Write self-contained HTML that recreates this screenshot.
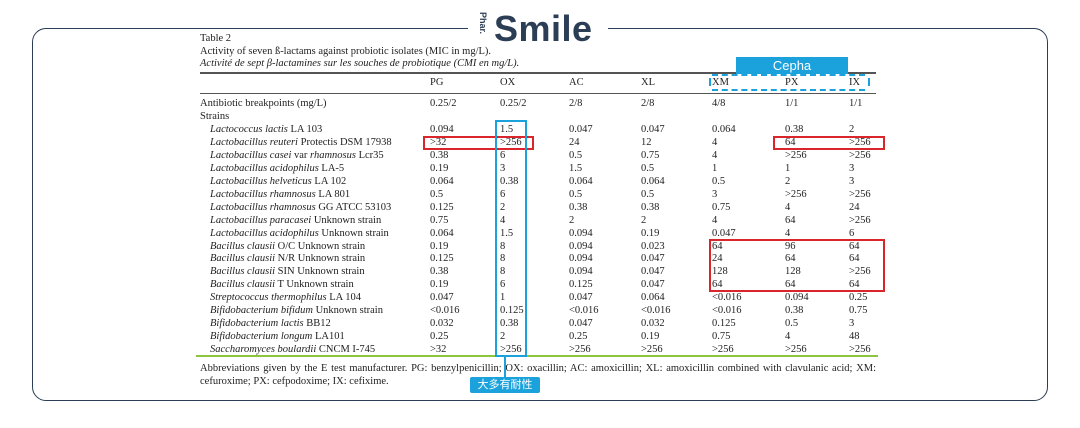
<!DOCTYPE html>
<html><head><meta charset="utf-8"><style>
body{margin:0;width:1080px;height:428px;background:#fff;position:relative;overflow:hidden;font-family:"Liberation Serif",serif;color:#222}
.frame{position:absolute;left:32px;top:28px;width:1014px;height:371px;border:1.5px solid #2b3e55;border-radius:14px}
.logo{position:absolute;left:468px;top:6px;width:140px;height:44px;background:#fff}
.t{position:absolute;font-size:10.5px;line-height:13px;white-space:nowrap}
.r{position:absolute;left:0;width:1080px;height:13px;font-size:10.5px;line-height:13px}
.r span{position:absolute;white-space:nowrap}
.n{left:210px}.a{left:430px}.b{left:500px}.c{left:569px}.d{left:641px}.e{left:712px}.f{left:785px}.g{left:849px}
i{font-style:italic}
.hl{position:absolute;left:200px;width:676px;background:#555}
.box{position:absolute;box-sizing:border-box}
</style></head><body>
<div class="frame"></div>
<div class="logo">
<div style="position:absolute;left:9px;top:6px;font-family:'Liberation Sans',sans-serif;font-weight:bold;font-size:9px;color:#2b3e55;transform:rotate(90deg);transform-origin:left top;left:20px">Phar.</div>
<div style="position:absolute;left:26px;top:2px;font-family:'Liberation Sans',sans-serif;font-weight:bold;font-size:36px;color:#2b3e55;letter-spacing:0.5px">Smile</div>
</div>
<div class="t" style="left:200px;top:32px">Table 2</div>
<div class="t" style="left:200px;top:45px">Activity of seven ß-lactams against probiotic isolates (MIC in mg/L).</div>
<div class="t" style="left:200px;top:57px"><i>Activité de sept β-lactamines sur les souches de probiotique (CMI en mg/L).</i></div>
<div class="hl" style="top:72px;height:2px"></div>
<div class="hl" style="top:93px;height:1px"></div>
<div class="r" style="top:76px"><span class="a">PG</span><span class="b">OX</span><span class="c">AC</span><span class="d">XL</span><span class="e">XM</span><span class="f">PX</span><span class="g">IX</span></div>
<div class="r" style="top:97px"><span style="left:200px">Antibiotic breakpoints (mg/L)</span><span class="a">0.25/2</span><span class="b">0.25/2</span><span class="c">2/8</span><span class="d">2/8</span><span class="e">4/8</span><span class="f">1/1</span><span class="g">1/1</span></div>
<div class="r" style="top:110px"><span style="left:200px">Strains</span></div>
<div class="r" style="top:123px"><span class="n"><i>Lactococcus lactis</i> LA 103</span><span class="a">0.094</span><span class="b">1.5</span><span class="c">0.047</span><span class="d">0.047</span><span class="e">0.064</span><span class="f">0.38</span><span class="g">2</span></div>
<div class="r" style="top:136px"><span class="n"><i>Lactobacillus reuteri</i> Protectis DSM 17938</span><span class="a">&gt;32</span><span class="b">&gt;256</span><span class="c">24</span><span class="d">12</span><span class="e">4</span><span class="f">64</span><span class="g">&gt;256</span></div>
<div class="r" style="top:149px"><span class="n"><i>Lactobacillus casei</i> var <i>rhamnosus</i> Lcr35</span><span class="a">0.38</span><span class="b">6</span><span class="c">0.5</span><span class="d">0.75</span><span class="e">4</span><span class="f">&gt;256</span><span class="g">&gt;256</span></div>
<div class="r" style="top:162px"><span class="n"><i>Lactobacillus acidophilus</i> LA-5</span><span class="a">0.19</span><span class="b">3</span><span class="c">1.5</span><span class="d">0.5</span><span class="e">1</span><span class="f">1</span><span class="g">3</span></div>
<div class="r" style="top:175px"><span class="n"><i>Lactobacillus helveticus</i> LA 102</span><span class="a">0.064</span><span class="b">0.38</span><span class="c">0.064</span><span class="d">0.064</span><span class="e">0.5</span><span class="f">2</span><span class="g">3</span></div>
<div class="r" style="top:188px"><span class="n"><i>Lactobacillus rhamnosus</i> LA 801</span><span class="a">0.5</span><span class="b">6</span><span class="c">0.5</span><span class="d">0.5</span><span class="e">3</span><span class="f">&gt;256</span><span class="g">&gt;256</span></div>
<div class="r" style="top:201px"><span class="n"><i>Lactobacillus rhamnosus</i> GG ATCC 53103</span><span class="a">0.125</span><span class="b">2</span><span class="c">0.38</span><span class="d">0.38</span><span class="e">0.75</span><span class="f">4</span><span class="g">24</span></div>
<div class="r" style="top:214px"><span class="n"><i>Lactobacillus paracasei</i> Unknown strain</span><span class="a">0.75</span><span class="b">4</span><span class="c">2</span><span class="d">2</span><span class="e">4</span><span class="f">64</span><span class="g">&gt;256</span></div>
<div class="r" style="top:227px"><span class="n"><i>Lactobacillus acidophilus</i> Unknown strain</span><span class="a">0.064</span><span class="b">1.5</span><span class="c">0.094</span><span class="d">0.19</span><span class="e">0.047</span><span class="f">4</span><span class="g">6</span></div>
<div class="r" style="top:240px"><span class="n"><i>Bacillus clausii</i> O/C Unknown strain</span><span class="a">0.19</span><span class="b">8</span><span class="c">0.094</span><span class="d">0.023</span><span class="e">64</span><span class="f">96</span><span class="g">64</span></div>
<div class="r" style="top:252px"><span class="n"><i>Bacillus clausii</i> N/R Unknown strain</span><span class="a">0.125</span><span class="b">8</span><span class="c">0.094</span><span class="d">0.047</span><span class="e">24</span><span class="f">64</span><span class="g">64</span></div>
<div class="r" style="top:265px"><span class="n"><i>Bacillus clausii</i> SIN Unknown strain</span><span class="a">0.38</span><span class="b">8</span><span class="c">0.094</span><span class="d">0.047</span><span class="e">128</span><span class="f">128</span><span class="g">&gt;256</span></div>
<div class="r" style="top:278px"><span class="n"><i>Bacillus clausii</i> T Unknown strain</span><span class="a">0.19</span><span class="b">6</span><span class="c">0.125</span><span class="d">0.047</span><span class="e">64</span><span class="f">64</span><span class="g">64</span></div>
<div class="r" style="top:291px"><span class="n"><i>Streptococcus thermophilus</i> LA 104</span><span class="a">0.047</span><span class="b">1</span><span class="c">0.047</span><span class="d">0.064</span><span class="e">&lt;0.016</span><span class="f">0.094</span><span class="g">0.25</span></div>
<div class="r" style="top:304px"><span class="n"><i>Bifidobacterium bifidum</i> Unknown strain</span><span class="a">&lt;0.016</span><span class="b">0.125</span><span class="c">&lt;0.016</span><span class="d">&lt;0.016</span><span class="e">&lt;0.016</span><span class="f">0.38</span><span class="g">0.75</span></div>
<div class="r" style="top:317px"><span class="n"><i>Bifidobacterium lactis</i> BB12</span><span class="a">0.032</span><span class="b">0.38</span><span class="c">0.047</span><span class="d">0.032</span><span class="e">0.125</span><span class="f">0.5</span><span class="g">3</span></div>
<div class="r" style="top:330px"><span class="n"><i>Bifidobacterium longum</i> LA101</span><span class="a">0.25</span><span class="b">2</span><span class="c">0.25</span><span class="d">0.19</span><span class="e">0.75</span><span class="f">4</span><span class="g">48</span></div>
<div class="r" style="top:343px"><span class="n"><i>Saccharomyces boulardii</i> CNCM I-745</span><span class="a">&gt;32</span><span class="b">&gt;256</span><span class="c">&gt;256</span><span class="d">&gt;256</span><span class="e">&gt;256</span><span class="f">&gt;256</span><span class="g">&gt;256</span></div>
<div style="position:absolute;left:196px;top:355px;width:682px;height:2px;background:#8cc63f"></div>
<div class="t" style="left:200px;top:362px;width:676px;text-align:justify;text-align-last:justify">Abbreviations given by the E test manufacturer. PG: benzylpenicillin; OX: oxacillin; AC: amoxicillin; XL: amoxicillin combined with clavulanic acid; XM:</div>
<div class="t" style="left:200px;top:375px">cefuroxime; PX: cefpodoxime; IX: cefixime.</div>
<div class="box" style="left:423px;top:136px;width:111px;height:14px;border:2px solid #d9262b"></div>
<div class="box" style="left:773px;top:136px;width:112px;height:14px;border:2px solid #d9262b"></div>
<div class="box" style="left:709px;top:239px;width:176px;height:53px;border:2px solid #d9262b"></div>
<div class="box" style="left:495px;top:120px;width:32px;height:237px;border:2px solid #1ba1dc"></div>
<div style="position:absolute;left:504px;top:357px;width:2px;height:21px;background:#1ba1dc"></div>
<div style="position:absolute;left:470px;top:377px;width:70px;height:16px;background:#1ba1dc;border-radius:2px;color:#fff;font-family:'Liberation Sans','Noto Sans CJK SC',sans-serif;font-size:11px;line-height:16px;text-align:center">大多有耐性</div>
<div style="position:absolute;left:736px;top:57px;width:112px;height:17px;background:#1ba1dc;color:#fff;font-family:'Liberation Sans',sans-serif;font-size:13px;line-height:17px;text-align:center">Cepha</div>
<div class="box" style="left:712px;top:74px;width:153px;height:17px;border:2px dashed #1ba1dc;border-left:none;border-right:none"></div>
<div style="position:absolute;left:709px;top:78px;width:2px;height:8px;background:#1ba1dc"></div>
<div style="position:absolute;left:868px;top:78px;width:2px;height:8px;background:#1ba1dc"></div>
</body></html>
